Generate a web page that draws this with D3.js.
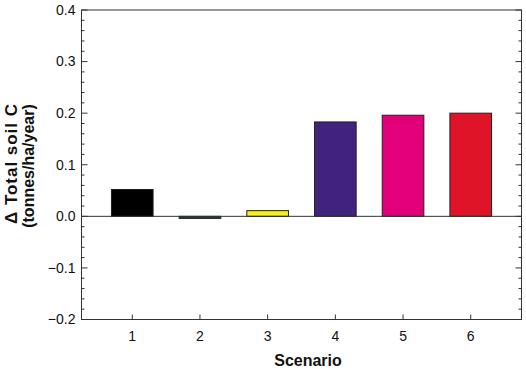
<!DOCTYPE html>
<html>
<head>
<meta charset="utf-8">
<script src="https://cdn.jsdelivr.net/npm/d3@7"></script>
<style>
    body { margin: 0; background: #fff; }
    text { font-family: "Liberation Sans", Arial, sans-serif; fill: #111; }
</style>
</head>
<body>
<svg id="chart" width="526" height="369"></svg>
<script>
// data
var scenarios = [1, 2, 3, 4, 5, 6]
var soilC = [0.052, -0.004, 0.011, 0.183, 0.196, 0.200]
var barColors = ['#000000', '#1d4634', '#f5f01e', '#41237e', '#e2007a', '#e01429']
var yTicks = [-0.2, -0.1, 0.0, 0.1, 0.2, 0.3, 0.4]

var svg = d3.select('#chart')
var pLeft = 81.5, pRight = 521.5, pTop = 10, pBottom = 319.5

var x = d3.scaleLinear().domain([0.25, 6.75]).range([pLeft, pRight])
var y = d3.scaleLinear().domain([-0.2, 0.4]).range([pBottom, pTop])
var barW = 0.615

// bars
svg.selectAll('rect.bar')
    .data(soilC)
    .enter().append('rect')
    .attr('class', 'bar')
    .attr('x', function(d, i) { return x(scenarios[i] - barW / 2) })
    .attr('width', function() { return x(barW) - x(0) })
    .attr('y', function(d) { return y(Math.max(0, d)) })
    .attr('height', function(d) { return Math.abs(y(d) - y(0)) })
    .attr('fill', function(d, i) { return barColors[i] })
    .attr('stroke', '#222')
    .attr('stroke-width', 1)

// zero line
svg.append('line')
    .attr('x1', pLeft).attr('x2', pRight)
    .attr('y1', y(0)).attr('y2', y(0))
    .attr('stroke', '#333').attr('stroke-width', 1)

// minor / major ticks, inward on left and right
var minor = d3.range(-0.2, 0.4001, 0.02)
var g = svg.append('g').attr('stroke', '#333').attr('stroke-width', 1)
minor.forEach(function(v) {
    var isMajor = Math.abs(Math.round(v * 10) - v * 10) < 1e-6
    var len = isMajor ? 6 : 3
    g.append('line').attr('x1', pLeft).attr('x2', pLeft + len).attr('y1', y(v)).attr('y2', y(v))
    g.append('line').attr('x1', pRight).attr('x2', pRight - len).attr('y1', y(v)).attr('y2', y(v))
})

// x ticks, inward from bottom
scenarios.forEach(function(s) {
    g.append('line').attr('x1', x(s)).attr('x2', x(s)).attr('y1', pBottom).attr('y2', pBottom - 5)
})

// frame
svg.append('rect')
    .attr('x', pLeft).attr('y', pTop)
    .attr('width', pRight - pLeft).attr('height', pBottom - pTop)
    .attr('fill', 'none').attr('stroke', '#333').attr('stroke-width', 1)

// tick labels
svg.selectAll('text.ylab')
    .data(yTicks)
    .enter().append('text')
    .attr('class', 'ylab')
    .attr('x', 75.5)
    .attr('y', function(d) { return y(d) })
    .attr('dy', '0.35em')
    .attr('text-anchor', 'end')
    .attr('font-size', 14)
    .text(function(d) { return d3.format('.1f')(d) })

svg.selectAll('text.xlab')
    .data(scenarios)
    .enter().append('text')
    .attr('class', 'xlab')
    .attr('x', function(d) { return x(d) })
    .attr('y', 341)
    .attr('text-anchor', 'middle')
    .attr('font-size', 14)
    .text(function(d) { return d })

// axis titles
svg.append('text')
    .attr('x', 308).attr('y', 366)
    .attr('text-anchor', 'middle')
    .attr('font-size', 16).attr('font-weight', 'bold')
    .text('Scenario')

svg.append('text')
    .attr('transform', 'translate(17,164) rotate(-90)')
    .attr('text-anchor', 'middle')
    .attr('font-size', 17).attr('font-weight', 'bold')
    .attr('textLength', 120).attr('lengthAdjust', 'spacing')
    .text('\u0394 Total soil C')

svg.append('text')
    .attr('transform', 'translate(33.5,166) rotate(-90)')
    .attr('text-anchor', 'middle')
    .attr('font-size', 16).attr('font-weight', 'bold')
    .text('(tonnes/ha/year)')
</script>
</body>
</html>
